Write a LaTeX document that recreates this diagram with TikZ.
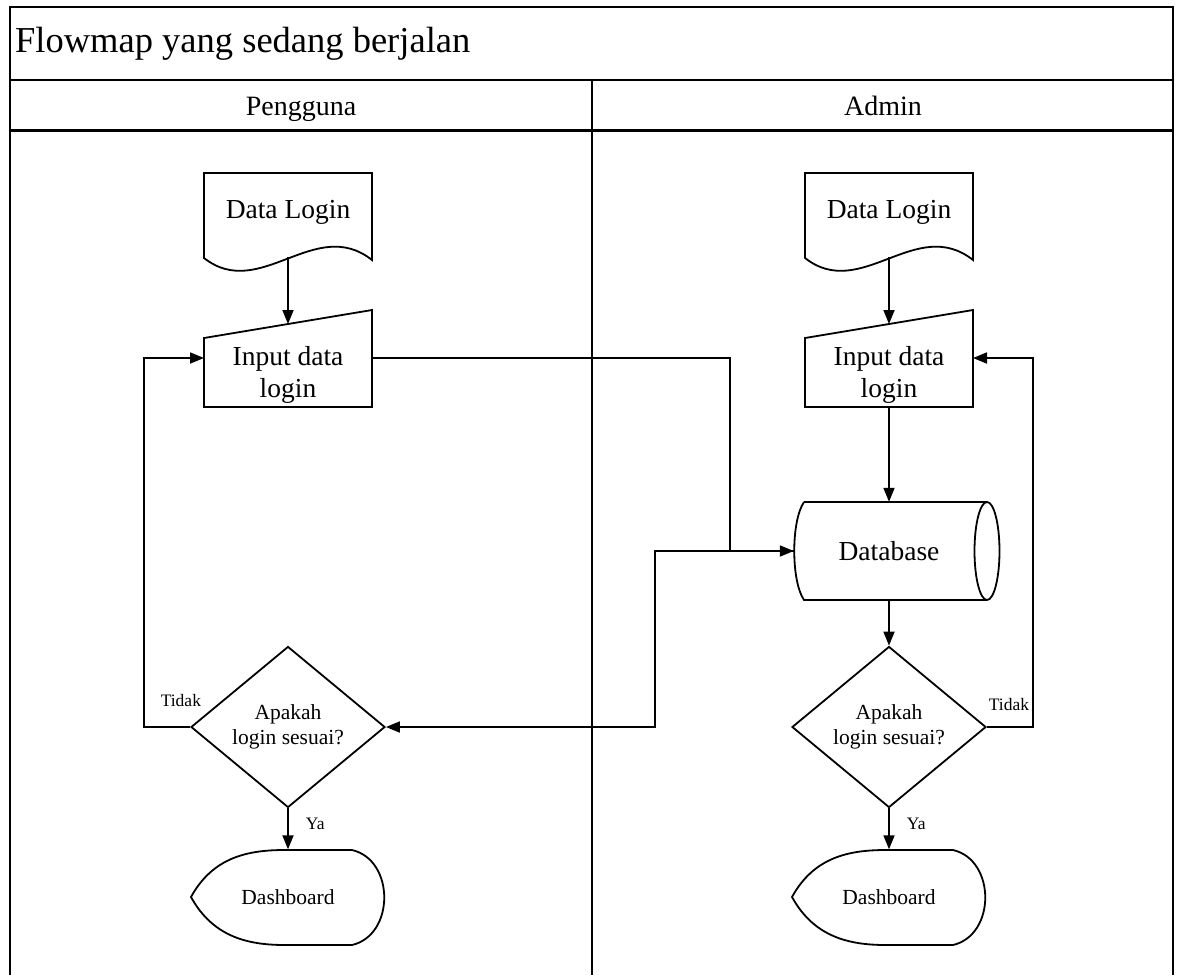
\documentclass[tikz,border=0pt]{standalone}
\usepackage{fontspec}
\setmainfont{Liberation Serif}
\usetikzlibrary{shapes.geometric, arrows.meta}

% Outlines drawn round a named text node
\newcommand{\docOutline}[1]{%
  \draw[shapeLine, shift={(#1.center)}] (-84,46) -- (-84,-39) -- (84,-39) -- (84,48)
    .. controls (27,3) and (-28,90) .. (-84,46) -- cycle;}
\newcommand{\inputOutline}[1]{%
  \draw[shapeLine, shift={(#1.center)}] (-84,-36.5) -- (84,-64.5) -- (84,32.5) -- (-84,32.5) -- cycle
    (0,-50.5) coordinate (#1 top) (-84,-16.5) coordinate (#1 left) (84,-16.5) coordinate (#1 right);}
\newcommand{\dbOutline}[1]{%
  \draw[shapeLine, shift={(#1.center)}] (-85,-49) -- (98,-49)
    (98,0) ellipse [x radius=12.5pt, y radius=49pt]
    (98,49) -- (-85,49) .. controls (-98,30) and (-98,-30) .. (-85,-49);}
\newcommand{\dashOutline}[1]{%
  \draw[shapeLine, shift={(#1.center)}] (-97,0) .. controls (-75,-40) and (-40,-47) .. (-3,-47) -- (64,-47)
    .. controls (107,-37) and (107,38) .. (64,48) -- (-3,48)
    .. controls (-40,48) and (-75,40) .. (-97,0) -- cycle;}

\begin{document}
\begin{tikzpicture}[x=1pt, y=-1pt,
    shapeLine/.style={line width=1.8pt, line join=miter},
    frameLine/.style={line width=2.4pt},
    flowArrow/.style={line width=1.8pt, -{Triangle[length=14pt, width=11pt]}},
    laneText/.style={font=\fontsize{28}{32}\selectfont, inner sep=0pt, anchor=base},
    bigText/.style={font=\fontsize{27.5}{32}\selectfont, align=center, inner sep=0pt},
    smallText/.style={font=\fontsize{21.5}{25}\selectfont, align=center, inner sep=0pt},
    tagText/.style={font=\fontsize{17.5}{20}\selectfont, inner sep=0pt},
    dataStyle/.style={bigText, minimum width=168pt, minimum height=90pt},
    inputStyle/.style={bigText, minimum width=168pt, minimum height=65pt},
    dbStyle/.style={bigText, minimum width=190pt, minimum height=98pt},
    decStyle/.style={smallText, diamond, draw, shapeLine, aspect=1.2, minimum width=194pt, minimum height=161pt},
    dashStyle/.style={smallText, minimum width=194pt, minimum height=95pt}]
    \useasboundingbox (0,0) rectangle (1178,975);

    % Frame and lanes
    \draw[frameLine] (10,975) -- (10,7) -- (1173,7) -- (1173,975);
    \draw[frameLine] (10,80) -- (1173,80);
    \draw[frameLine] (10,130.5) -- (1173,130.5);
    \draw[frameLine] (592,80) -- (592,975);

    \node[font=\fontsize{36.5}{40}\selectfont, anchor=west, inner sep=0pt] (title) at (15,44) {Flowmap yang sedang berjalan};
    \node[laneText] (pengguna) at (301,115) {Pengguna};
    \node[laneText] (admin) at (883,115) {Admin};

    % Pengguna
    \node[dataStyle]  (dataL) at (288,212)   {Data Login};
    \node[inputStyle] (inL)   at (288,374.5) {Input data\\login};
    \node[decStyle]   (decL)  at (288,727)   {Apakah\\login sesuai?};
    \node[dashStyle]  (dashL) at (288,897)   {Dashboard};
    \docOutline{dataL}
    \inputOutline{inL}
    \dashOutline{dashL}

    % Admin
    \node[dataStyle]  (dataR) at (889,212)   {Data Login};
    \node[inputStyle] (inR)   at (889,374.5) {Input data\\login};
    \node[dbStyle]    (db)    at (889,551)   {Database};
    \node[decStyle]   (decR)  at (889,727)   {Apakah\\login sesuai?};
    \node[dashStyle]  (dashR) at (889,897)   {Dashboard};
    \docOutline{dataR}
    \inputOutline{inR}
    \dbOutline{db}
    \dashOutline{dashR}

    % Edges
    \draw[flowArrow] (dataL.south) -- (inL top);
    \draw[flowArrow] (inL right) -- ++(358,0) |- (db.west);
    \draw[flowArrow] (db.west) -- ++(-139,0) |- (decL.east);
    \draw[flowArrow] (decL.west) -- node[tagText, pos=0.2, above=19pt] (tidakL) {Tidak} ++(-46,0) |- (inL left);
    \draw[flowArrow] (decL.south) -- node[tagText, pos=0.38, right=17pt] (yaL) {Ya} (dashL.north);

    \draw[flowArrow] (dataR.south) -- (inR top);
    \draw[flowArrow] (inR.south) -- (db.north);
    \draw[flowArrow] (db.south) -- (decR.north);
    \draw[flowArrow] (decR.east) -- node[tagText, pos=0.48, above=15pt] (tidakR) {Tidak} ++(46,0) |- (inR right);
    \draw[flowArrow] (decR.south) -- node[tagText, pos=0.38, right=17pt] (yaR) {Ya} (dashR.north);
\end{tikzpicture}
\end{document}
